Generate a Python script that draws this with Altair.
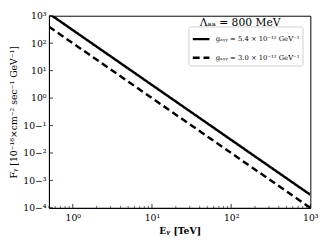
import altair as alt
import pandas as pd

# data
energy = [0.5, 1000.0]                 # TeV
flux_g54 = [1200.0, 3.0e-4]           # solid
flux_g30 = [400.0, 1.0e-4]            # dashed
series = ["gₐᵧᵧ = 5.4 × 10⁻¹² GeV⁻¹", "gₐᵧᵧ = 3.0 × 10⁻¹² GeV⁻¹"]
x_major = [1, 10, 100, 1000]
y_major = [1e-4, 1e-3, 1e-2, 1e-1, 1, 10, 100, 1000]
x_minor = [m * d for d in [0.1, 1, 10, 100] for m in range(2, 10) if 0.5 <= m * d < 1000]

FONT = "DejaVu Serif"
W, H = 268, 197

df = pd.DataFrame({
    "E": energy * 2,
    "F": flux_g54 + flux_g30,
    "s": [series[0]] * 2 + [series[1]] * 2,
})

xs = alt.Scale(type="log", domain=[0.5, 1000], nice=False)
ys = alt.Scale(type="log", domain=[1e-4, 1e3], nice=False)

sup = {"-": "⁻", "0": "⁰", "1": "¹", "2": "²", "3": "³", "4": "⁴",
       "5": "⁵", "6": "⁶", "7": "⁷", "8": "⁸", "9": "⁹"}
expr = "format(round(log(datum.value)/LN10),'d')"
for k, v in sup.items():
    expr = f"replace({expr},'{k}','{v}')"
label_expr = f"'10' + {expr}"

lines = alt.Chart(df).mark_line(clip=True, strokeWidth=2.5, color="black").encode(
    x=alt.X("E:Q", scale=xs, axis=alt.Axis(values=x_major, labelExpr=label_expr, ticks=False,
                                            title="Eᵧ [TeV]", titleFontWeight="bold",
                                            labelPadding=5, titlePadding=4)),
    y=alt.Y("F:Q", scale=ys, axis=alt.Axis(values=y_major, labelExpr=label_expr, ticks=False,
                                            title="Fᵧ [10⁻¹⁸×cm⁻² sec⁻¹ GeV⁻¹]",
                                            labelPadding=3, titlePadding=4)),
    strokeDash=alt.StrokeDash("s:N", scale=alt.Scale(domain=series, range=[[1, 0], [7, 4]]),
                              legend=alt.Legend(title=None, orient="none", legendX=143, legendY=11,
                                                strokeColor="#d0d0d0", cornerRadius=2, padding=3,
                                                symbolType="stroke", symbolSize=289,
                                                symbolStrokeWidth=2.5, symbolStrokeColor="black",
                                                labelFontSize=7, labelFont=FONT, labelOffset=5,
                                                rowPadding=4)),
)

xmaj = alt.Chart(pd.DataFrame({"v": x_major})).mark_rule(color="black", strokeWidth=0.8).encode(
    x=alt.X("v:Q", scale=xs), y=alt.value(H), y2=alt.value(H - 4))
xmin = alt.Chart(pd.DataFrame({"v": x_minor})).mark_rule(color="black", strokeWidth=0.6).encode(
    x=alt.X("v:Q", scale=xs), y=alt.value(H), y2=alt.value(H - 2))
ymaj = alt.Chart(pd.DataFrame({"v": y_major})).mark_rule(color="black", strokeWidth=0.8).encode(
    y=alt.Y("v:Q", scale=ys), x=alt.value(0), x2=alt.value(4))

title = alt.Chart(pd.DataFrame({"t": ["Λₐₐ = 800 MeV"]})).mark_text(
    font=FONT, fontSize=11, color="black").encode(
    text="t:N", x=alt.value(196), y=alt.value(8))

chart = alt.layer(lines, xmaj, xmin, ymaj, title).properties(
    width=W, height=H,
    autosize=alt.AutoSizeParams(type="none"),
    padding={"left": 42, "top": 5, "right": 14, "bottom": 30},
).configure_view(stroke="black", strokeWidth=1).configure_axis(
    grid=False, domainColor="black", labelFont=FONT, titleFont=FONT,
    labelFontSize=9.5, titleFontSize=9.5, labelColor="black", titleColor="black",
    titleFontWeight="normal", labelFlush=False,
)

chart.save("out.html", embed_options={"renderer": "svg", "actions": False})
